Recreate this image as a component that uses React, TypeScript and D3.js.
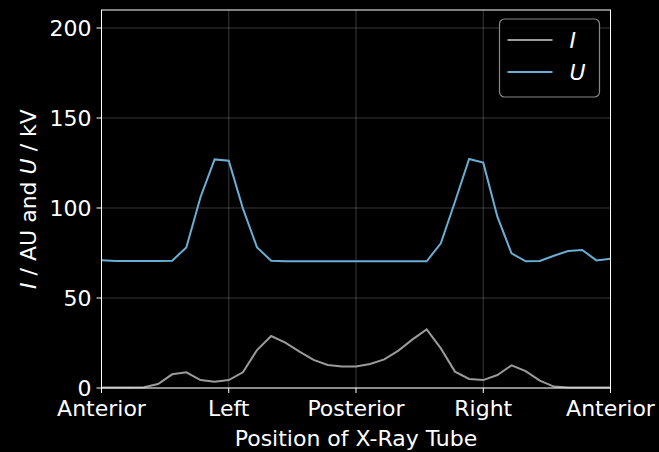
import React from "react";
import * as d3 from "d3";

// angle of tube in degrees, 10 degree steps
const angles = d3.range(0, 361, 10);

const currentI = [
  0.3, 0.3, 0.3, 0.4, 2.2, 7.6, 8.7, 4.4, 3.5, 4.4, 8.7, 21.1, 28.9, 25.2, 20.2,
  15.6, 12.8, 11.9, 12.0, 13.3, 15.9, 20.8, 27.0, 32.6, 22.0, 9.1, 5.0, 4.4, 7.2,
  12.6, 9.4, 4.1, 0.8, 0.3, 0.3, 0.3, 0.3,
];

const voltageU = [
  71.0, 70.5, 70.5, 70.5, 70.5, 70.7, 78.1, 106.0, 127.0, 126.3, 99.8, 78.1, 70.7,
  70.4, 70.4, 70.4, 70.4, 70.4, 70.4, 70.4, 70.4, 70.4, 70.4, 70.4, 80.4, 103.5,
  127.2, 125.2, 95.2, 74.8, 70.4, 70.6, 73.5, 76.1, 76.7, 70.9, 71.8,
];

const xTickValues = [0, 90, 180, 270, 360];
const xTickLabels = ["Anterior", "Left", "Posterior", "Right", "Anterior"];
const yTickValues = [0, 50, 100, 150, 200];

const W = 659;
const H = 452;
const margin = { top: 10, right: 48.5, bottom: 64, left: 101.5 };
const font = "DejaVu Sans, sans-serif";

export default function App() {
  const innerW = W - margin.left - margin.right;
  const innerH = H - margin.top - margin.bottom;

  const x = d3.scaleLinear().domain([0, 360]).range([0, innerW]);
  const y = d3.scaleLinear().domain([0, 210]).range([innerH, 0]);

  const line = d3
    .line<number>()
    .x((_, i) => x(angles[i]))
    .y((d) => y(d));

  const grayC = "#9b9b9b";
  const blueC = "#6aaed6";

  return (
    <svg
      width={W}
      height={H}
      style={{ position: "absolute", left: 0, top: 0, background: "#000" }}
      fontFamily={font}
    >
      <rect width={W} height={H} fill="#000" />
      <g transform={`translate(${margin.left},${margin.top})`}>
        {/* grid */}
        {xTickValues.map((v, i) => (
          <line
            key={"gx" + i}
            x1={x(v)}
            x2={x(v)}
            y1={0}
            y2={innerH}
            stroke="#fff"
            strokeOpacity={0.28}
            strokeWidth={0.8}
          />
        ))}
        {yTickValues.map((v, i) => (
          <line
            key={"gy" + i}
            x1={0}
            x2={innerW}
            y1={y(v)}
            y2={y(v)}
            stroke="#fff"
            strokeOpacity={0.28}
            strokeWidth={0.8}
          />
        ))}

        <path d={line(currentI) || ""} fill="none" stroke={grayC} strokeWidth={2} />
        <path d={line(voltageU) || ""} fill="none" stroke={blueC} strokeWidth={2} />

        {/* spines */}
        <rect
          x={0}
          y={0}
          width={innerW}
          height={innerH}
          fill="none"
          stroke="#fff"
          strokeWidth={1}
        />

        {/* x ticks */}
        {xTickValues.map((v, i) => (
          <g key={"xt" + i} transform={`translate(${x(v)},${innerH})`}>
            <line y1={0} y2={5} stroke="#fff" strokeWidth={1} />
            <text y={28} textAnchor="middle" fill="#fff" fontSize={22}>
              {xTickLabels[i]}
            </text>
          </g>
        ))}
        {/* y ticks */}
        {yTickValues.map((v, i) => (
          <g key={"yt" + i} transform={`translate(0,${y(v)})`}>
            <line x1={0} x2={-5} stroke="#fff" strokeWidth={1} />
            <text x={-10} dy="0.36em" textAnchor="end" fill="#fff" fontSize={22}>
              {v}
            </text>
          </g>
        ))}

        <text
          x={innerW / 2}
          y={innerH + 58}
          textAnchor="middle"
          fill="#fff"
          fontSize={22}
        >
          Position of X-Ray Tube
        </text>

        <text
          transform={`translate(${-66},${innerH / 2}) rotate(-90)`}
          textAnchor="middle"
          fill="#fff"
          fontSize={22}
        >
          <tspan fontStyle="italic">I</tspan>
          <tspan> / AU and </tspan>
          <tspan fontStyle="italic">U</tspan>
          <tspan> / kV</tspan>
        </text>

        {/* legend */}
        <g transform={`translate(${innerW - 111},${9})`}>
          <rect
            x={0}
            y={0}
            width={100}
            height={78}
            rx={5}
            fill="#000"
            fillOpacity={0.8}
            stroke="#888"
            strokeWidth={1.2}
          />
          <line x1={8} x2={53} y1={21} y2={21} stroke={grayC} strokeWidth={2} />
          <line x1={8} x2={53} y1={53} y2={53} stroke={blueC} strokeWidth={2} />
          <text x={70} y={29} fill="#fff" fontSize={22} fontStyle="italic">
            I
          </text>
          <text x={70} y={61} fill="#fff" fontSize={22} fontStyle="italic">
            U
          </text>
        </g>
      </g>
    </svg>
  );
}
